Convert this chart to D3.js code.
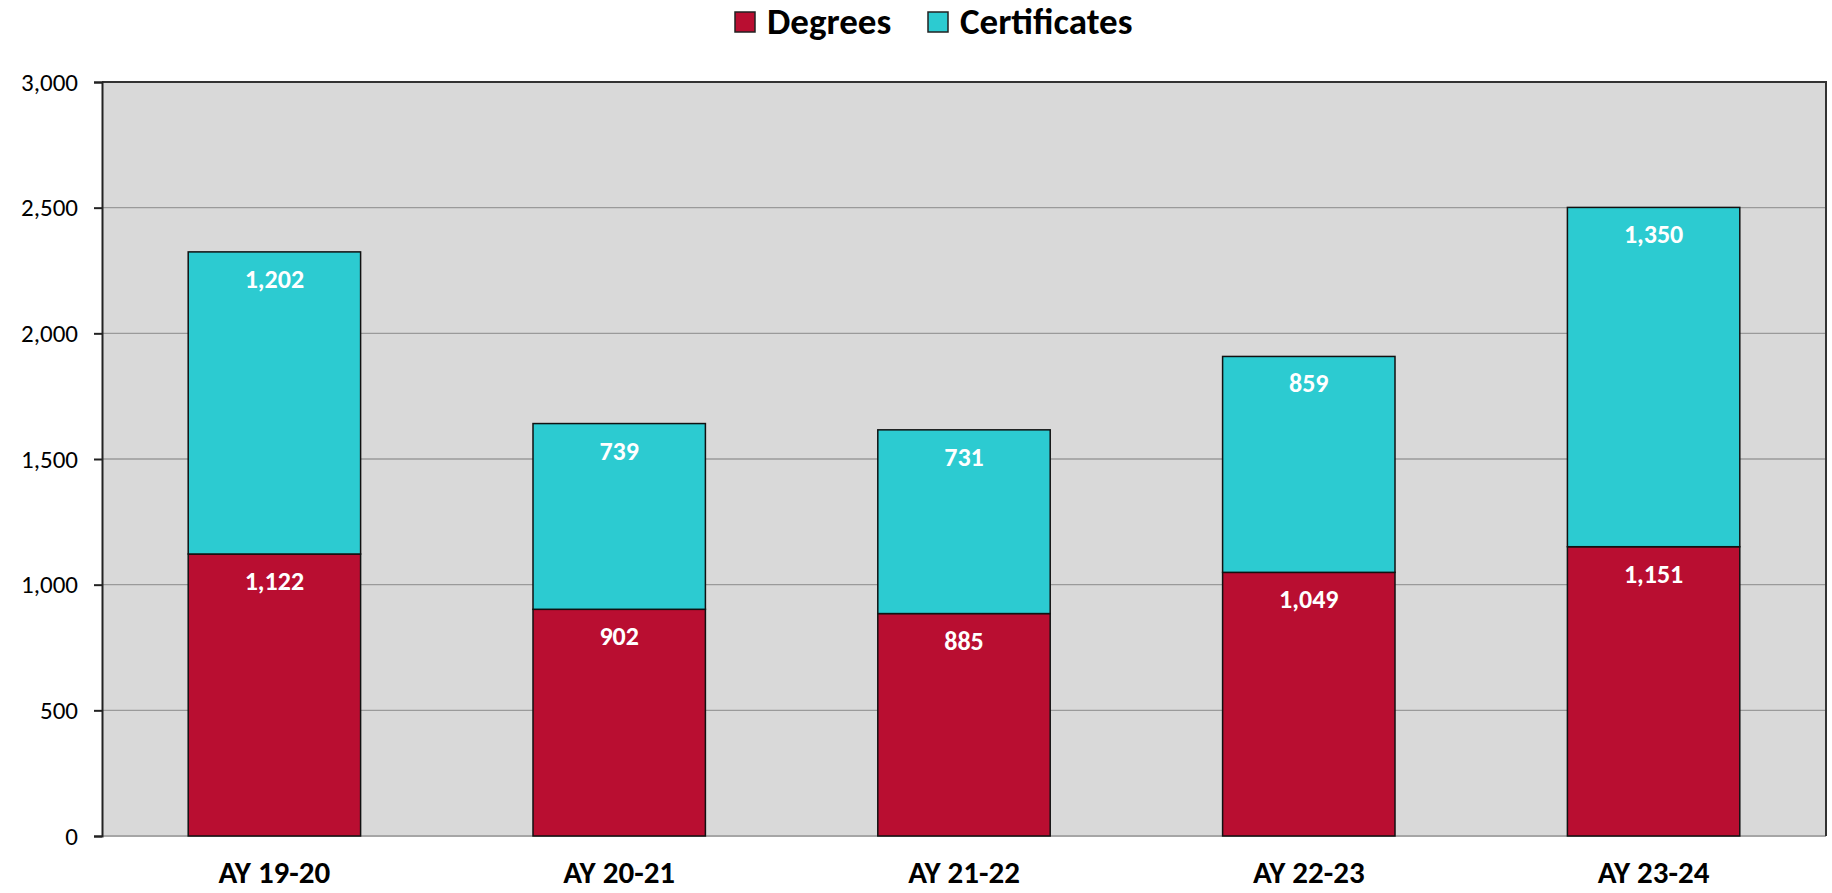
<!DOCTYPE html>
<html>
<head>
<meta charset="utf-8">
<script src="https://cdn.jsdelivr.net/npm/d3@7"></script>
<style>
  body { margin: 0; background: #fff; }
  text { font-family: Carlito, Lato, "Open Sans", sans-serif; }
</style>
</head>
<body>
<script>
(function() {
  'use strict';

  // chart data
  let years = ['AY 19-20', 'AY 20-21', 'AY 21-22', 'AY 22-23', 'AY 23-24'];
  let degrees = [1122, 902, 885, 1049, 1151];
  let certificates = [1202, 739, 731, 859, 1350];
  let yTicks = [0, 500, 1000, 1500, 2000, 2500, 3000];
  let seriesNames = ['Degrees', 'Certificates'];
  let seriesColors = ['#b90e31', '#2ccbd1'];

  let width = 1832, height = 893;
  let left = 102, right = 1826, top = 82, bottom = 836;

  let svg = d3.select('body').append('svg')
    .attr('width', width)
    .attr('height', height);

  let xScale = d3.scaleBand()
    .domain(years)
    .range([left, right])
    .paddingInner(0.5)
    .paddingOuter(0.25);

  let yScale = d3.scaleLinear()
    .domain([0, 3000])
    .range([bottom, top]);

  // plot area background
  svg.append('rect')
    .attr('x', left)
    .attr('y', top)
    .attr('width', right - left)
    .attr('height', bottom - top)
    .attr('fill', '#d9d9d9');

  // gridlines
  svg.selectAll('.grid')
    .data(yTicks.slice(1, -1))
    .enter()
    .append('line')
      .attr('x1', left)
      .attr('x2', right)
      .attr('y1', d => yScale(d))
      .attr('y2', d => yScale(d))
      .attr('stroke', '#9a9a9a')
      .attr('stroke-width', 1.3);

  // bottom baseline
  svg.append('line')
    .attr('x1', left).attr('x2', right)
    .attr('y1', bottom).attr('y2', bottom)
    .attr('stroke', '#a6a6a6')
    .attr('stroke-width', 2);

  // top and right border
  svg.append('path')
    .attr('d', 'M' + left + ',' + top + 'H' + right + 'V' + bottom)
    .attr('fill', 'none')
    .attr('stroke', '#333')
    .attr('stroke-width', 2);

  // stacked bars
  let rows = years.map((y, i) => ({ year: y, Degrees: degrees[i], Certificates: certificates[i] }));
  let stacked = d3.stack().keys(seriesNames)(rows);

  stacked.forEach((layer, li) => {
    let g = svg.append('g');
    g.selectAll('rect')
      .data(layer)
      .enter()
      .append('rect')
        .attr('x', d => xScale(d.data.year))
        .attr('y', d => yScale(d[1]))
        .attr('width', xScale.bandwidth())
        .attr('height', d => yScale(d[0]) - yScale(d[1]))
        .attr('fill', seriesColors[li])
        .attr('stroke', '#111')
        .attr('stroke-width', 1.5);

    g.selectAll('text')
      .data(layer)
      .enter()
      .append('text')
        .attr('x', d => xScale(d.data.year) + xScale.bandwidth() / 2)
        .attr('y', d => yScale(d[1]) + 36)
        .attr('text-anchor', 'middle')
        .style('font-size', '26px')
        .style('font-weight', 'bold')
        .style('fill', '#fff')
        .text(d => d3.format(',')(d[1] - d[0]));
  });

  // y axis
  let yAxis = d3.axisLeft(yScale)
    .tickValues(yTicks)
    .tickSize(8)
    .tickPadding(16)
    .tickFormat(d3.format(','));

  let yg = svg.append('g')
    .attr('transform', 'translate(' + left + ',0)')
    .call(yAxis);
  yg.select('.domain').attr('stroke', '#222').attr('stroke-width', 2);
  yg.selectAll('.tick line').attr('stroke', '#222').attr('stroke-width', 2);
  yg.selectAll('.tick text')
    .style('font-size', '25px')
    .style('font-family', 'Carlito, Lato, "Open Sans", sans-serif')
    .attr('fill', '#000');

  // x axis labels
  let xAxis = d3.axisBottom(xScale).tickSize(0).tickPadding(25);
  let xg = svg.append('g')
    .attr('transform', 'translate(0,' + bottom + ')')
    .call(xAxis);
  xg.select('.domain').remove();
  xg.selectAll('.tick text')
    .style('font-size', '31px')
    .style('font-weight', 'bold')
    .style('font-family', 'Carlito, Lato, "Open Sans", sans-serif')
    .attr('fill', '#000');

  // legend
  let legendX = [735, 928];
  seriesNames.forEach((name, i) => {
    svg.append('rect')
      .attr('x', legendX[i])
      .attr('y', 12)
      .attr('width', 20)
      .attr('height', 20)
      .attr('fill', seriesColors[i])
      .attr('stroke', '#222')
      .attr('stroke-width', 1.5);
    svg.append('text')
      .attr('x', legendX[i] + 32)
      .attr('y', 34)
      .style('font-size', '37px')
      .style('font-weight', 'bold')
      .style('fill', '#000')
      .text(name);
  });
})();
</script>
</body>
</html>
